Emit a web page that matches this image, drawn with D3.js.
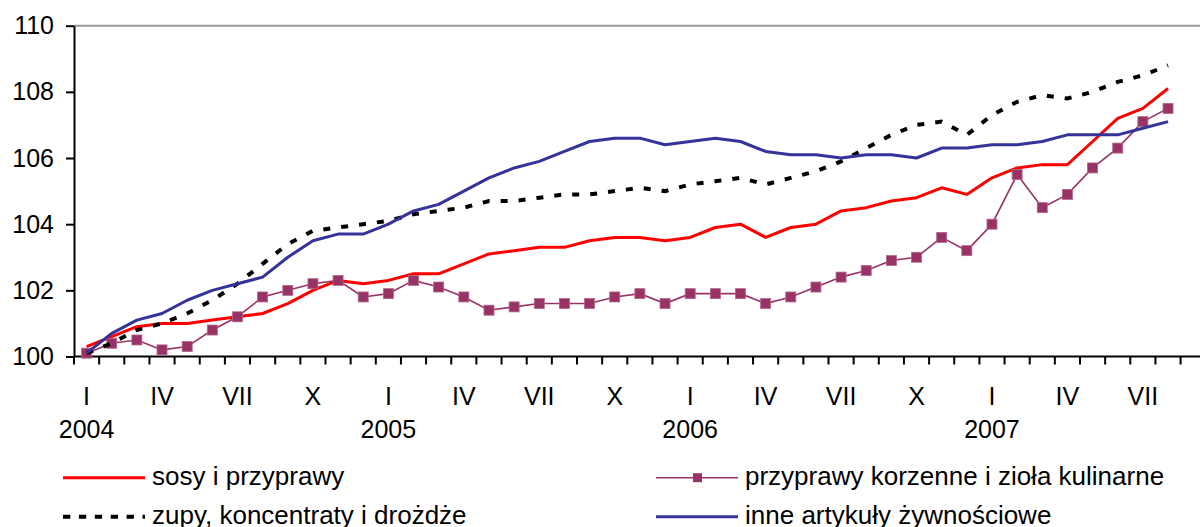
<!DOCTYPE html>
<html>
<head>
<meta charset="utf-8">
<script src="https://cdn.jsdelivr.net/npm/d3@7"></script>
<style>
  body { margin: 0; background: #fff; }
  svg { display: block; font-family: "Liberation Sans", Arial, sans-serif; }
</style>
</head>
<body>
<svg id="chart" width="1200" height="527"></svg>
<script>
// dane: miesiące od I 2004 do VIII 2007
var years = [2004, 2005, 2006, 2007];
var romanMonths = ["I", "II", "III", "IV", "V", "VI", "VII", "VIII", "IX", "X", "XI", "XII"];
var shownMonths = ["I", "IV", "VII", "X"];
var yTicks = [100, 102, 104, 106, 108, 110];

var sosy = [100.3, 100.6, 100.9, 101.0, 101.0, 101.1, 101.2, 101.3, 101.6, 102.0, 102.3, 102.2,
            102.3, 102.5, 102.5, 102.8, 103.1, 103.2, 103.3, 103.3, 103.5, 103.6, 103.6, 103.5,
            103.6, 103.9, 104.0, 103.6, 103.9, 104.0, 104.4, 104.5, 104.7, 104.8, 105.1, 104.9,
            105.4, 105.7, 105.8, 105.8, 106.5, 107.2, 107.5, 108.1];
var korzenne = [100.1, 100.4, 100.5, 100.2, 100.3, 100.8, 101.2, 101.8, 102.0, 102.2, 102.3, 101.8,
                101.9, 102.3, 102.1, 101.8, 101.4, 101.5, 101.6, 101.6, 101.6, 101.8, 101.9, 101.6,
                101.9, 101.9, 101.9, 101.6, 101.8, 102.1, 102.4, 102.6, 102.9, 103.0, 103.6, 103.2,
                104.0, 105.5, 104.5, 104.9, 105.7, 106.3, 107.1, 107.5];
var zupy = [100.1, 100.4, 100.8, 101.0, 101.3, 101.7, 102.2, 102.8, 103.4, 103.8, 103.9, 104.0,
            104.1, 104.3, 104.4, 104.5, 104.7, 104.7, 104.8, 104.9, 104.9, 105.0, 105.1, 105.0,
            105.2, 105.3, 105.4, 105.2, 105.4, 105.6, 105.9, 106.3, 106.7, 107.0, 107.1, 106.7,
            107.3, 107.7, 107.9, 107.8, 108.0, 108.3, 108.5, 108.8];
var inne = [100.1, 100.7, 101.1, 101.3, 101.7, 102.0, 102.2, 102.4, 103.0, 103.5, 103.7, 103.7,
            104.0, 104.4, 104.6, 105.0, 105.4, 105.7, 105.9, 106.2, 106.5, 106.6, 106.6, 106.4,
            106.5, 106.6, 106.5, 106.2, 106.1, 106.1, 106.0, 106.1, 106.1, 106.0, 106.3, 106.3,
            106.4, 106.4, 106.5, 106.7, 106.7, 106.7, 106.9, 107.1];

// kategorie osi X: rok + miesiąc (jedna pusta kategoria na końcu, obszar wykresu sięga dalej)
var categories = [];
years.forEach(function (yr) {
	romanMonths.forEach(function (m) { categories.push({ year: yr, month: m, key: m + " " + yr }); });
});
categories = categories.slice(0, 45);

var svg = d3.select("#chart");

var x = d3.scaleBand()
	.domain(categories.map(function (c) { return c.key; }))
	.range([74, 74 + 45 * 25.15])
	.padding(0);
var y = d3.scaleLinear().domain([100, 110]).range([356.5, 25.7]);

function cx(i) { return x(categories[i].key) + x.bandwidth() / 2; }

// górna krawędź obszaru wykresu
svg.append("line")
	.attr("x1", 74).attr("x2", 1206)
	.attr("y1", y(110)).attr("y2", y(110))
	.style("stroke", "#999").style("stroke-width", 2);

// oś Y
var yAxis = svg.append("g")
	.attr("transform", "translate(74,0)")
	.call(d3.axisLeft(y).tickValues(yTicks).tickSize(8).tickSizeOuter(0).tickPadding(12));
yAxis.select(".domain").style("stroke", "#000").style("stroke-width", 2);
yAxis.selectAll(".tick line").style("stroke", "#000").style("stroke-width", 2);
yAxis.selectAll(".tick text")
	.style("font-size", "25px").style("fill", "#000")
	.style("font-family", "'Liberation Sans', Arial, sans-serif");

// oś X - linia i znaczniki między kategoriami
svg.append("line")
	.attr("x1", 74).attr("x2", 1206)
	.attr("y1", y(100)).attr("y2", y(100))
	.style("stroke", "#000").style("stroke-width", 2);

svg.append("g").selectAll("line")
	.data(categories)
	.enter().append("line")
	.attr("x1", function (d) { return x(d.key); })
	.attr("x2", function (d) { return x(d.key); })
	.attr("y1", y(100)).attr("y2", y(100) + 8)
	.style("stroke", "#000").style("stroke-width", 2);

// podpisy miesięcy (I, IV, VII, X)
var labelled = categories.slice(0, sosy.length).filter(function (c) { return shownMonths.indexOf(c.month) >= 0; });
svg.append("g").selectAll("text")
	.data(labelled)
	.enter().append("text")
	.attr("x", function (d) { return x(d.key) + x.bandwidth() / 2; })
	.attr("y", 405)
	.attr("text-anchor", "middle")
	.style("font-size", "25px")
	.text(function (d) { return d.month; });

// podpisy lat pod styczniem
svg.append("g").selectAll("text")
	.data(categories.filter(function (c) { return c.month == "I"; }))
	.enter().append("text")
	.attr("x", function (d) { return x(d.key) + x.bandwidth() / 2; })
	.attr("y", 438)
	.attr("text-anchor", "middle")
	.style("font-size", "25px")
	.text(function (d) { return d.year; });

var line = d3.line()
	.x(function (d, i) { return cx(i); })
	.y(function (d) { return y(d); });

// serie
svg.append("path").datum(sosy)
	.attr("d", line)
	.style("fill", "none").style("stroke", "#ff0000").style("stroke-width", 3)
	.style("stroke-linejoin", "round");

svg.append("path").datum(korzenne)
	.attr("d", line)
	.style("fill", "none").style("stroke", "#993366").style("stroke-width", 1.6);
svg.append("g").selectAll("rect")
	.data(korzenne)
	.enter().append("rect")
	.attr("x", function (d, i) { return cx(i) - 5; })
	.attr("y", function (d) { return y(d) - 5; })
	.attr("width", 10).attr("height", 10)
	.style("fill", "#993366").style("stroke", "#b0668a").style("stroke-width", 0.8);

svg.append("path").datum(zupy)
	.attr("d", line)
	.style("fill", "none").style("stroke", "#000").style("stroke-width", 4)
	.style("stroke-dasharray", "7,11");

svg.append("path").datum(inne)
	.attr("d", line)
	.style("fill", "none").style("stroke", "#333399").style("stroke-width", 3)
	.style("stroke-linejoin", "round");

// legenda
var legendItems = [
	{ name: "sosy i przyprawy", color: "#ff0000", width: 3, dash: null, marker: false, x: 63, y: 477.7 },
	{ name: "przyprawy korzenne i zioła kulinarne", color: "#993366", width: 1.6, dash: null, marker: true, x: 656, y: 477.7 },
	{ name: "zupy, koncentraty i drożdże", color: "#000", width: 4, dash: "7.3,8.6", marker: false, x: 63, y: 516.7 },
	{ name: "inne artykuły żywnościowe", color: "#333399", width: 3, dash: null, marker: false, x: 656, y: 516.7 }
];

var legend = svg.append("g").selectAll("g")
	.data(legendItems)
	.enter().append("g")
	.attr("transform", function (d) { return "translate(" + d.x + "," + d.y + ")"; });

legend.append("line")
	.attr("x1", 0).attr("x2", 82)
	.attr("y1", 0).attr("y2", 0)
	.style("stroke", function (d) { return d.color; })
	.style("stroke-width", function (d) { return d.width; })
	.style("stroke-dasharray", function (d) { return d.dash; });

legend.filter(function (d) { return d.marker; })
	.append("rect")
	.attr("x", 37).attr("y", -4.5)
	.attr("width", 9).attr("height", 9)
	.style("fill", "#993366");

legend.append("text")
	.attr("x", 89).attr("y", 7)
	.style("font-size", "26px")
	.text(function (d) { return d.name; });
</script>
</body>
</html>
